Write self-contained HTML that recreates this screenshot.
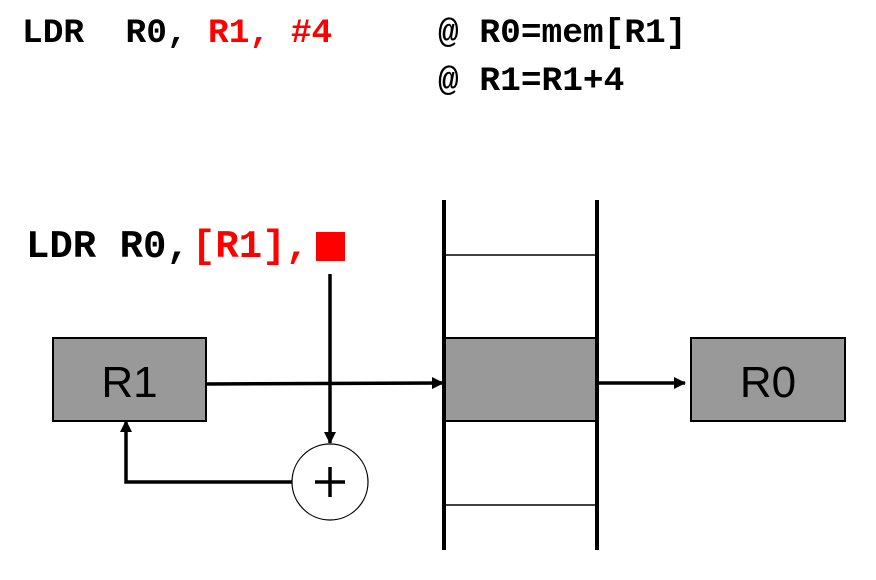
<!DOCTYPE html>
<html><head><meta charset="utf-8"><style>
html,body{margin:0;padding:0;background:#fff;}
body{width:876px;height:580px;position:relative;overflow:hidden;}
</style></head><body>
<svg width="876" height="580" viewBox="0 0 876 580" xmlns="http://www.w3.org/2000/svg" style="position:absolute;left:0;top:0">
<defs>
<marker id="ah" markerWidth="12" markerHeight="12" refX="11" refY="6" orient="auto" markerUnits="userSpaceOnUse"><path d="M0,0 L12,6 L0,12 z" fill="#000"/></marker>
</defs>
<g font-family="Liberation Mono, monospace" font-weight="bold" font-size="34.5">
<text x="22" y="42" xml:space="preserve" fill="#000">LDR  R0, </text>
<text x="208" y="42" xml:space="preserve" fill="#f00">R1, #4</text>
<text x="438" y="42" xml:space="preserve" fill="#000">@ R0=mem[R1]</text>
<text x="438" y="90" xml:space="preserve" fill="#000">@ R1=R1+4</text>
</g>
<g font-family="Liberation Mono, monospace" font-weight="bold" font-size="39">
<text x="26" y="257" xml:space="preserve" fill="#000">LDR R0,</text>
<text x="192" y="257" xml:space="preserve" fill="#f00">[R1],</text>
</g>
<rect x="316" y="232" width="29" height="29" fill="#f00"/>
<rect x="53" y="338" width="153" height="83" fill="#999" stroke="#000" stroke-width="2"/>
<text x="129.5" y="397" text-anchor="middle" font-family="Liberation Sans, DejaVu Sans, sans-serif" font-size="44" fill="#000">R1</text>
<rect x="444" y="338" width="153" height="83" fill="#999" stroke="#000" stroke-width="2"/>
<line x1="444" y1="255" x2="597" y2="255" stroke="#000" stroke-width="1.5"/>
<line x1="444" y1="505" x2="597" y2="505" stroke="#000" stroke-width="1.5"/>
<line x1="444" y1="200" x2="444" y2="550" stroke="#000" stroke-width="4"/>
<line x1="597" y1="200" x2="597" y2="550" stroke="#000" stroke-width="4"/>
<rect x="691" y="338" width="154" height="83" fill="#999" stroke="#000" stroke-width="2"/>
<text x="768" y="397" text-anchor="middle" font-family="Liberation Sans, DejaVu Sans, sans-serif" font-size="44" fill="#000">R0</text>
<line x1="206" y1="384" x2="443" y2="383" stroke="#000" stroke-width="3.5" marker-end="url(#ah)"/>
<line x1="330" y1="274" x2="330" y2="443" stroke="#000" stroke-width="3.5" marker-end="url(#ah)"/>
<line x1="597" y1="383" x2="685" y2="383" stroke="#000" stroke-width="3.5" marker-end="url(#ah)"/>
<polyline points="292,482 126,482 126,421" fill="none" stroke="#000" stroke-width="3.5" marker-end="url(#ah)"/>
<circle cx="330" cy="482" r="38" fill="#fff" stroke="#000" stroke-width="1.2"/>
<line x1="315" y1="482" x2="345" y2="482" stroke="#000" stroke-width="3.5"/>
<line x1="330" y1="467" x2="330" y2="497" stroke="#000" stroke-width="3.5"/>
</svg>
</body></html>
